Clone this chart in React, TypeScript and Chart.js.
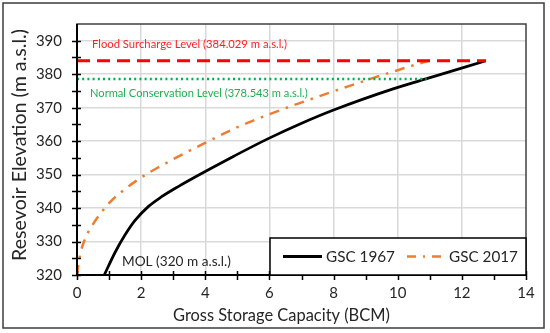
import React, { useEffect, useRef } from "react";
import { Chart, registerables } from "chart.js";

Chart.register(...registerables);

const gsc1967X = [0.85, 1.19, 1.5, 1.81, 2.23, 2.64, 3.17, 3.84, 4.89, 5.93, 6.97, 8.0, 9.88, 10.88, 12.75];
const gsc1967Y = [320, 326.8, 332.0, 336.3, 340.5, 343.4, 346.5, 350.1, 355.5, 360.6, 365.2, 369.3, 375.7, 378.6, 384.03];

const gsc2017X = [0, 0.05, 0.12, 0.25, 0.5, 0.72, 1.03, 1.45, 1.81, 2.23, 2.6, 3.06, 3.48, 3.9, 4.89, 5.72, 6.66, 7.7, 8.43, 8.9, 9.47, 10.0, 10.4, 11.0];
const gsc2017Y = [320, 323.5, 327.0, 330.8, 335.2, 338.2, 341.8, 345.3, 347.9, 350.5, 352.5, 354.9, 357.0, 359.0, 363.7, 367.0, 370.4, 373.9, 376.3, 377.8, 379.6, 381.2, 382.4, 384.1];

const floodLevel = 384.029;
const floodX = [0, 12.75];
const conservationLevel = 378.543;
const conservationX = [0, 10.9];
const molLevel = 320;

const seriesNames = ["GSC 1967", "GSC 2017"];
const floodLabel = "Flood Surcharge Level (384.029 m a.s.l.)";
const conservationLabel = "Normal Conservation Level (378.543 m a.s.l.)";
const molLabel = "MOL (320 m a.s.l.)";
const xTitle = "Gross Storage Capacity (BCM)";
const yTitle = "Resevoir Elevation (m a.s.l.)";

const xMin = 0, xMax = 14, xStep = 1;
const yMin = 320, yMax = 395, yStep = 5;

const FONT = "Lato, 'Open Sans', sans-serif";
const TEXT = "#262626";
const ORANGE = "#ed7d31";

function fitSize(ctx: CanvasRenderingContext2D, text: string, width: number) {
  ctx.font = `100px ${FONT}`;
  const w = ctx.measureText(text).width;
  return (100 * width) / w;
}

function drawText(ctx: CanvasRenderingContext2D, text: string, left: number, midY: number, width: number, color: string) {
  const s = fitSize(ctx, text, width);
  ctx.font = `${s}px ${FONT}`;
  ctx.fillStyle = color;
  ctx.textAlign = "left";
  ctx.textBaseline = "middle";
  ctx.fillText(text, left, midY);
}

const decor = {
  id: "decor",
  beforeDraw(chart: any) {
    const ctx = chart.ctx as CanvasRenderingContext2D;
    ctx.save();
    ctx.fillStyle = "#fff";
    ctx.fillRect(0, 0, chart.width, chart.height);
    ctx.restore();
  },
  afterDraw(chart: any) {
    const ctx = chart.ctx as CanvasRenderingContext2D;
    const { left, right, top, bottom } = chart.chartArea;
    const xs = chart.scales.x;
    const ys = chart.scales.y;
    ctx.save();
    ctx.strokeStyle = "#3c3c3c";
    ctx.lineWidth = 1.5;
    ctx.strokeRect(3, 3, 541, 325);
    ctx.strokeStyle = "#404040";
    ctx.lineWidth = 1.5;
    ctx.strokeRect(left, top, right - left, bottom - top);
    ctx.strokeStyle = "#000";
    ctx.lineWidth = 2;
    ctx.beginPath();
    ctx.moveTo(left, top);
    ctx.lineTo(left, bottom);
    ctx.lineTo(right, bottom);
    ctx.stroke();
    ctx.lineWidth = 1.5;
    ctx.beginPath();
    for (let v = yMin; v <= 390; v += yStep) {
      const y = Math.round(ys.getPixelForValue(v)) + 0.5;
      ctx.moveTo(left - 5, y);
      ctx.lineTo(left + 4, y);
    }
    for (let v = xMin; v <= xMax; v += xStep) {
      const x = Math.round(xs.getPixelForValue(v)) + 0.5;
      ctx.moveTo(x, bottom - 4);
      ctx.lineTo(x, bottom + 5);
    }
    ctx.stroke();

    drawText(ctx, floodLabel, 92, ys.getPixelForValue(floodLevel) - 16, 195, "#ff2020");
    drawText(ctx, conservationLabel, 90, ys.getPixelForValue(conservationLevel) + 14, 218, "#1fb14f");
    drawText(ctx, molLabel, 122, ys.getPixelForValue(molLevel) - 13, 109, TEXT);

    drawText(ctx, xTitle, 173, 316, 217, TEXT);
    ctx.save();
    ctx.translate(20, 145);
    ctx.rotate(-Math.PI / 2);
    const ts = fitSize(ctx, yTitle, 232);
    ctx.font = `${ts}px ${FONT}`;
    ctx.fillStyle = TEXT;
    ctx.textAlign = "center";
    ctx.textBaseline = "middle";
    ctx.fillText(yTitle, 0, 0);
    ctx.restore();

    const lx = 270, ly = 238, lw = right - 270, lh = bottom - 238;
    ctx.fillStyle = "#fff";
    ctx.fillRect(lx, ly, lw, lh);
    ctx.strokeStyle = "#000";
    ctx.lineWidth = 1.5;
    ctx.strokeRect(lx, ly, lw, lh);
    const my = ly + lh / 2;
    ctx.strokeStyle = "#000";
    ctx.lineWidth = 3;
    ctx.beginPath();
    ctx.moveTo(283, my);
    ctx.lineTo(322, my);
    ctx.stroke();
    drawText(ctx, seriesNames[0], 326, my + 0.5, 69, TEXT);
    ctx.strokeStyle = ORANGE;
    ctx.lineWidth = 2.5;
    ctx.setLineDash([9, 7, 2, 7]);
    ctx.beginPath();
    ctx.moveTo(407, my);
    ctx.lineTo(448, my);
    ctx.stroke();
    ctx.setLineDash([]);
    drawText(ctx, seriesNames[1], 449, my + 0.5, 69, TEXT);
    ctx.restore();
  },
};

export default function App() {
  const ref = useRef<HTMLCanvasElement>(null);
  useEffect(() => {
    if (!ref.current) return;
    const toPts = (xs: number[], ys: number[]) => xs.map((x, i) => ({ x, y: ys[i] }));
    const chart = new Chart(ref.current, {
      type: "scatter",
      data: {
        datasets: [
          {
            label: "Flood",
            data: floodX.map((x) => ({ x, y: floodLevel })),
            showLine: true,
            borderColor: "#ff0000",
            borderWidth: 3,
            borderDash: [13, 7],
            pointRadius: 0,
          },
          {
            label: "Conservation",
            data: conservationX.map((x) => ({ x, y: conservationLevel })),
            showLine: true,
            borderColor: "#00b050",
            borderWidth: 2.5,
            borderDash: [2, 3.2],
            pointRadius: 0,
          },
          {
            label: seriesNames[0],
            data: toPts(gsc1967X, gsc1967Y),
            showLine: true,
            borderColor: "#000",
            borderWidth: 2.75,
            cubicInterpolationMode: "monotone",
            pointRadius: 0,
          },
          {
            label: seriesNames[1],
            data: toPts(gsc2017X, gsc2017Y),
            showLine: true,
            borderColor: ORANGE,
            borderWidth: 2.5,
            borderDash: [10, 7, 2.5, 7],
            cubicInterpolationMode: "monotone",
            pointRadius: 0,
          },
        ],
      } as any,
      options: {
        animation: false,
        responsive: false,
        layout: { padding: { left: 0, top: 13, right: 24, bottom: 0 } },
        plugins: { legend: { display: false }, tooltip: { enabled: false } },
        scales: {
          x: {
            type: "linear",
            min: xMin,
            max: xMax,
            afterFit: (s: any) => { s.height = 58; },
            ticks: {
              stepSize: xStep,
              padding: 9,
              color: TEXT,
              font: { family: FONT, size: 15 },
              callback: (v: any) => (Number(v) % 2 === 0 ? String(v) : ""),
            },
            grid: {
              drawTicks: false,
              lineWidth: 1.5,
              color: (c: any) => (c.tick && c.tick.value % 2 === 0 && c.tick.value > 0 && c.tick.value < 14 ? "#d9d9d9" : "rgba(0,0,0,0)"),
            },
            border: { display: false },
          },
          y: {
            type: "linear",
            min: yMin,
            max: yMax,
            afterFit: (s: any) => { s.width = 77; },
            ticks: {
              stepSize: yStep,
              padding: 15,
              color: TEXT,
              font: { family: FONT, size: 15 },
              callback: (v: any) => (Number(v) % 10 === 0 ? String(v) : ""),
            },
            grid: {
              drawTicks: false,
              lineWidth: 1.5,
              color: (c: any) => (c.tick && c.tick.value % 10 === 0 && c.tick.value > 320 ? "#d9d9d9" : "rgba(0,0,0,0)"),
            },
            border: { display: false },
          },
        },
      },
      plugins: [decor],
    });
    return () => chart.destroy();
  }, []);
  return (
    <div style={{ position: "fixed", left: 0, top: 0, width: 550, height: 333 }}>
      <canvas ref={ref} width={550} height={333} style={{ width: 550, height: 333, display: "block" }} />
    </div>
  );
}
